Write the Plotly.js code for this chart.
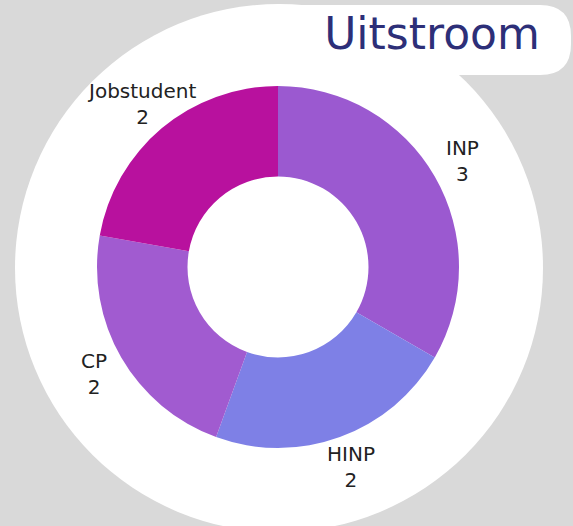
<!DOCTYPE html>
<html>
<head>
<meta charset="utf-8">
<script src="https://cdn.plot.ly/plotly-3.0.1.min.js"></script>
<style>html,body{margin:0;padding:0;background:#d9d9d9;}#chart{width:573px;height:526px;}</style>
</head>
<body>
<div id="chart"></div>
<script>
const categories = ["INP", "HINP", "CP", "Jobstudent"];
const values = [3, 2, 2, 2];
const colors = ["#9b59d0", "#7e80e6", "#a15bd0", "#b8119e"];
const titleText = "Uitstroom";

// geometry (pixels, on hidden axes that map 1:1 to the page)
const cx = 278, cy = 267, labelR = 213;

const total = values.reduce((a, b) => a + b, 0);
let cum = 0;
const annotations = categories.map((c, i) => {
  const mid = (cum + values[i] / 2) / total * 2 * Math.PI;
  cum += values[i];
  return {
    xref: "x", yref: "y",
    x: cx + labelR * Math.sin(mid),
    y: cy - labelR * Math.cos(mid),
    text: c + "<br>" + values[i],
    showarrow: false,
    xanchor: "center", yanchor: "middle",
    font: {family: "DejaVu Sans", size: 20, color: "#222222"}
  };
});

const trace = {
  type: "pie",
  labels: categories,
  values: values,
  sort: false,
  direction: "clockwise",
  rotation: 0,
  hole: 0.5,
  marker: {colors: colors, line: {width: 0}},
  textinfo: "none",
  showlegend: false,
  automargin: false,
  domain: {x: [97/573, 459/573], y: [1 - 448/526, 1 - 86/526]},
  hoverinfo: "label+value"
};

const layout = {
  width: 573, height: 526,
  margin: {l: 0, r: 0, t: 0, b: 0},
  paper_bgcolor: "#d9d9d9",
  plot_bgcolor: "rgba(0,0,0,0)",
  xaxis: {range: [0, 573], visible: false, fixedrange: true},
  yaxis: {range: [526, 0], visible: false, fixedrange: true},
  shapes: [
    {type: "circle", xref: "x", yref: "y", x0: 15, x1: 543, y0: 4, y1: 532,
     fillcolor: "#ffffff", line: {width: 0}, layer: "below"},
    {type: "path", xref: "x", yref: "y",
     path: "M 300 5 L 540 5 Q 571 5 571 36 L 571 44 Q 571 75 540 75 L 300 75 Z",
     fillcolor: "#ffffff", line: {width: 0}, layer: "below"}
  ],
  annotations: annotations,
  title: {text: titleText, x: 432/573, xanchor: "center", y: 1 - 34/526, yanchor: "middle",
          font: {family: "DejaVu Sans", size: 44, color: "#2d2f78"}}
};

Plotly.newPlot("chart", [trace], layout, {displayModeBar: false, staticPlot: true});
</script>
</body>
</html>
